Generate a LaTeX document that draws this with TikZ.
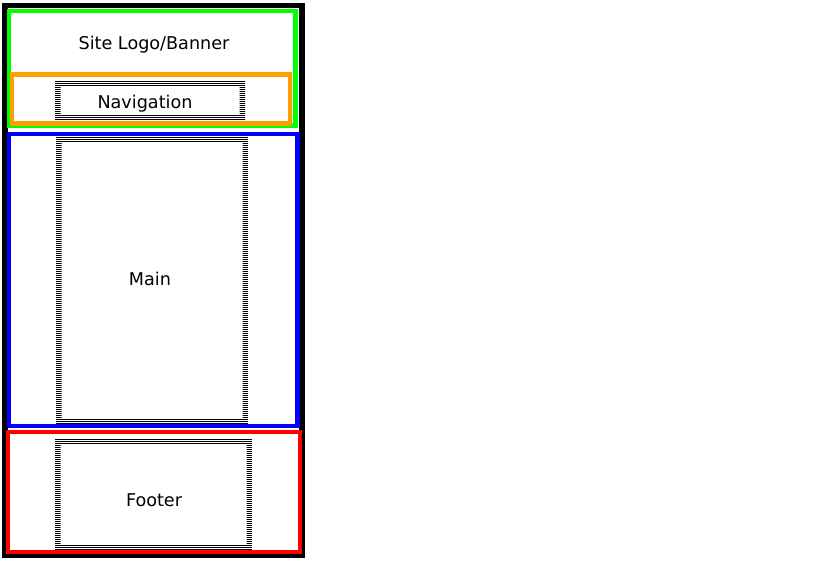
\documentclass[tikz,border=0pt]{standalone}
\usepackage{fontspec}
\setmainfont{DejaVu Sans}
\usetikzlibrary{patterns.meta}
\definecolor{hdrgreen}{RGB}{0,255,0}
\definecolor{navorange}{RGB}{255,160,0}
\begin{document}
\begin{tikzpicture}[x=1pt,y=-1pt,
  frame/.style={draw=#1, line width=4.5pt},
  stripes/.style={pattern={Lines[angle=0,distance=2pt,line width=1pt]}, even odd rule},
  lbl/.style={font=\fontsize{17.6}{21}\selectfont, inner sep=0pt}]
\useasboundingbox (0,0) rectangle (819,564);
\fill[white] (0,0) rectangle (819,564);
% outer page
\draw[line width=5.5pt] (5,5.5) rectangle (302,555);
% header (green) and navigation (orange)
\draw[frame=hdrgreen] (9,11) rectangle (295.5,125.5);
\draw[frame=navorange] (12,74.5) rectangle (290,123.5);
% main (blue)
\draw[frame=blue] (9,134) rectangle (297.5,426);
% footer (red)
\draw[frame=red] (8,432) rectangle (300,552);
% striped inner frames
\fill[stripes] (55,80.5) rectangle (245,120.5) (60.5,86.5) rectangle (239.5,114.5);
\fill[stripes] (56,136.5) rectangle (248,424.5) (61.5,142.5) rectangle (242.5,418.5);
\fill[stripes] (55,438.5) rectangle (252,550.5) (60.5,444.5) rectangle (246.5,544.5);
% labels
\node[lbl] (banner) at (154,45) {Site Logo/Banner};
\node[lbl] (nav) at (145,104) {Navigation};
\node[lbl] (main) at (150,279) {Main};
\node[lbl] (footer) at (154,500) {Footer};
\end{tikzpicture}
\end{document}
